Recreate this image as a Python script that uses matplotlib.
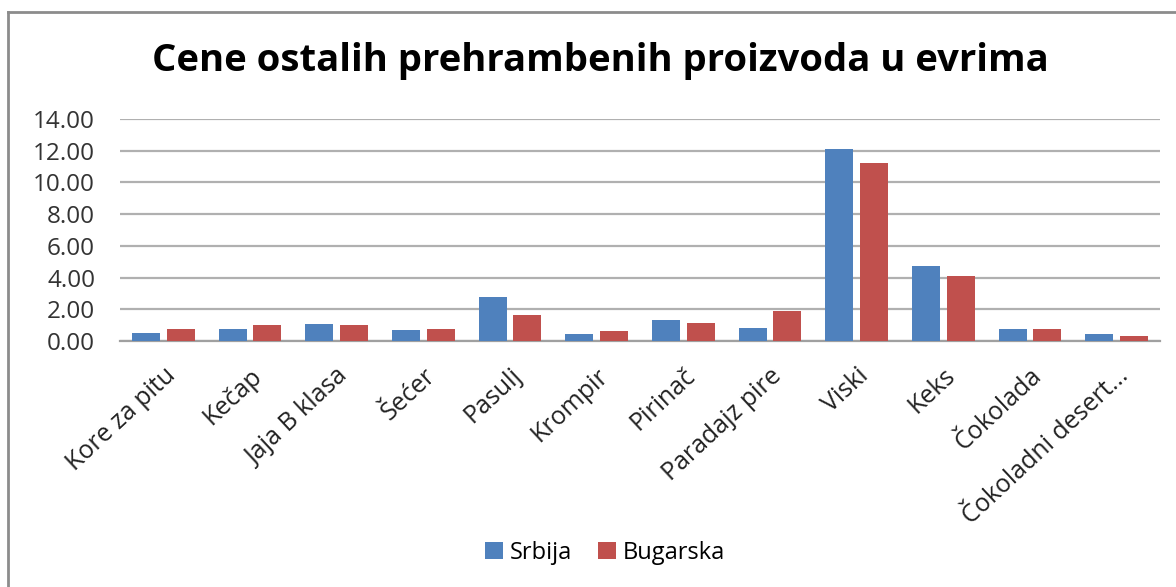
import matplotlib.pyplot as plt
import numpy as np
from matplotlib.lines import Line2D

# Podaci (cene u evrima)
categories = ["Kore za pitu", "Kečap", "Jaja B klasa", "Šećer", "Pasulj", "Krompir",
              "Pirinač", "Paradajz pire", "Viski", "Keks", "Čokolada", "Čokoladni desert..."]
srbija = [0.50, 0.76, 1.09, 0.67, 2.77, 0.42, 1.32, 0.84, 12.09, 4.75, 0.76, 0.42]
bugarska = [0.76, 1.01, 1.01, 0.76, 1.66, 0.61, 1.16, 1.89, 11.20, 4.12, 0.76, 0.34]
yticks = [0, 2, 4, 6, 8, 10, 12, 14]

BLUE = "#4F81BD"
RED = "#C0504D"
FONT = "Open Sans"

fig = plt.figure(figsize=(11.76, 5.87), dpi=100)
ax = fig.add_axes([120 / 1176, 1 - 341 / 587, 1040 / 1176, 222 / 587])

x = np.arange(len(categories))
w = 0.32
ax.bar(x - 0.2, srbija, width=w, color=BLUE, label="Srbija", zorder=3)
ax.bar(x + 0.2, bugarska, width=w, color=RED, label="Bugarska", zorder=3)

ax.set_xlim(-0.5, len(categories) - 0.5)
ax.set_ylim(0, 14)
ax.set_yticks(yticks)
ax.set_yticklabels([f"{v:.2f}" for v in yticks], fontsize=17.5, family=FONT, color="#333333")
ax.set_xticks(x)
ax.set_xticklabels(categories, rotation=43, ha="right", rotation_mode="anchor",
                   fontsize=18, family=FONT, color="#222222")
ax.tick_params(axis="both", length=0)
ax.tick_params(axis="y", pad=18)
ax.tick_params(axis="x", pad=16)

ax.grid(axis="y", color="#b0b0b0", linewidth=1.6, zorder=0)
for s in ["top", "right", "left"]:
    ax.spines[s].set_visible(False)
ax.spines["bottom"].set_color("#a0a0a0")
ax.spines["bottom"].set_linewidth(1.6)

fig.text(600 / 1176, 1 - 61 / 587, "Cene ostalih prehrambenih proizvoda u evrima",
         ha="center", va="center", fontsize=27.5, fontweight="bold", family=FONT)

fig.legend(loc="center", bbox_to_anchor=(605 / 1176, 1 - 553 / 587), ncol=2,
           frameon=False, prop={"family": FONT, "size": 17},
           handlelength=0.75, handleheight=0.75, handletextpad=0.3, columnspacing=1.1)

# okvir grafikona (vidljive su samo leva i gornja ivica)
fig.add_artist(Line2D([8 / 1176, 8 / 1176], [0, 1 - 12 / 587], transform=fig.transFigure,
                      color="#8c8c8c", linewidth=2))
fig.add_artist(Line2D([8 / 1176, 1], [1 - 12 / 587, 1 - 12 / 587], transform=fig.transFigure,
                      color="#8c8c8c", linewidth=2))

plt.savefig("out.png", dpi=100)
plt.close()
